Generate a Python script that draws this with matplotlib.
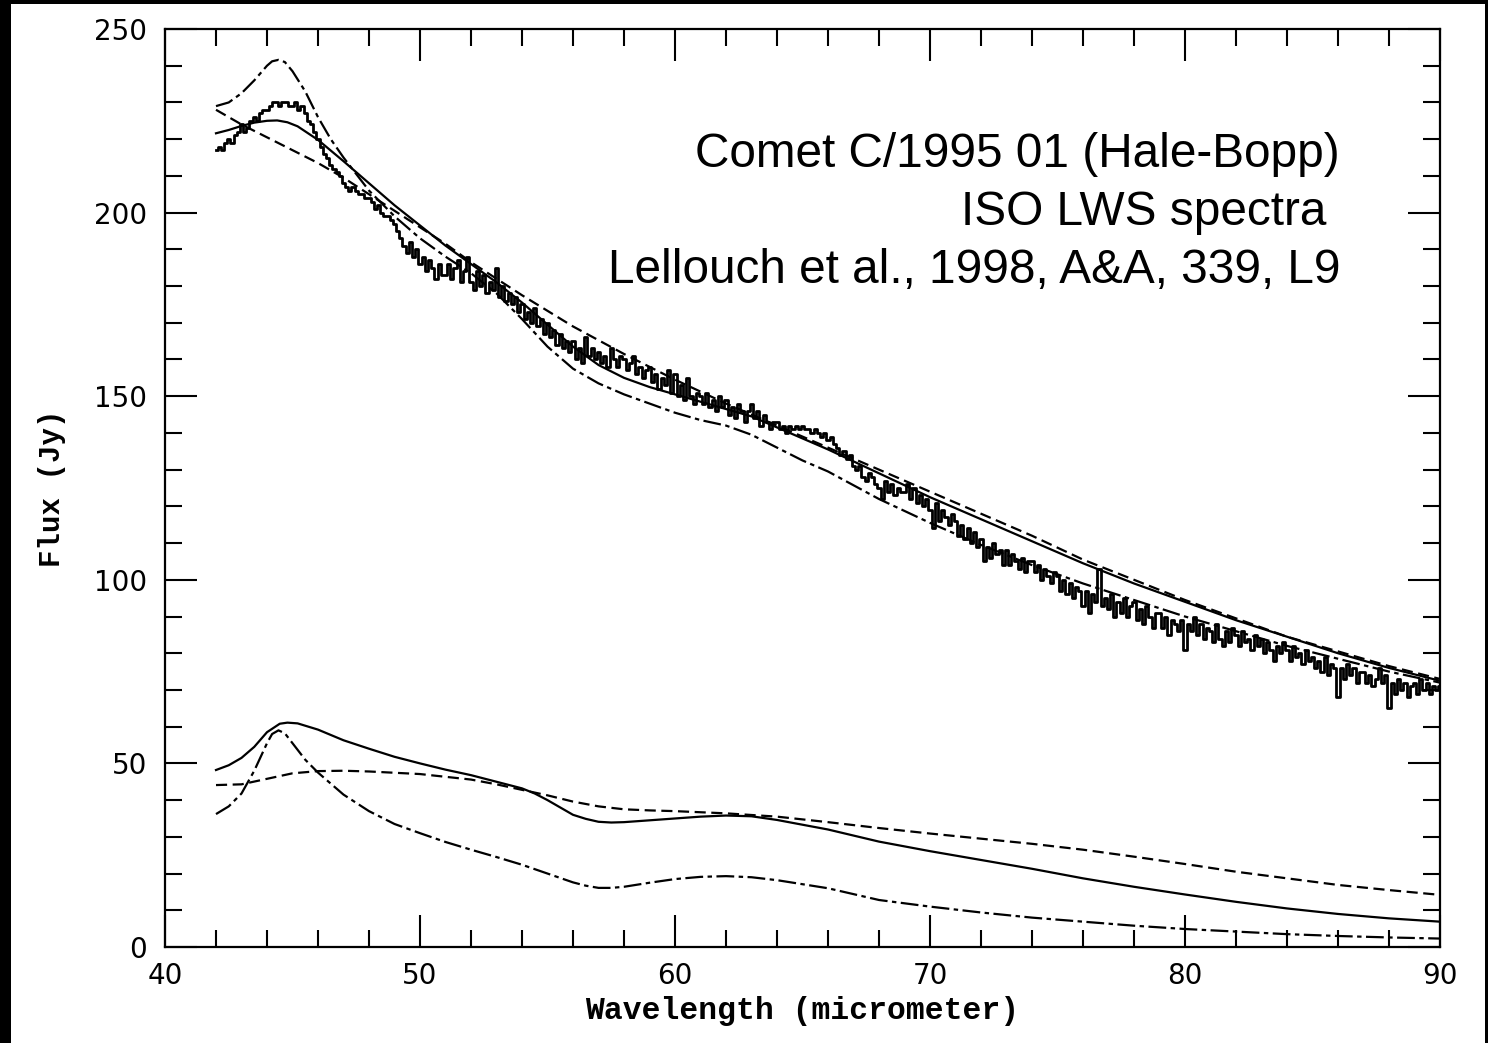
import numpy as np
import matplotlib
matplotlib.use("Agg")
import matplotlib.pyplot as plt
from matplotlib.patches import Rectangle
from matplotlib.ticker import MultipleLocator

# ---------------- data ----------------
# observed ISO LWS spectrum (histogram), 0.125 micron bins from 42 to 90
obs_start, obs_step = 42.0, 0.125
obs_flux = [
    217, 218, 217, 219, 220, 219, 221, 222,   # 42
    224, 222, 223, 225, 226, 225, 227, 228,   # 43
    228, 229, 230, 230, 229, 230, 230, 229,   # 44
    229, 230, 228, 229, 227, 225, 224, 222,   # 45
    220, 218, 216, 215, 213, 212, 211, 210,   # 46
    208, 207, 206, 207, 206, 205, 205, 204,   # 47
    204, 203, 201, 202, 200, 199, 199, 198,   # 48
    197, 195, 193, 191, 189, 192, 188, 190,   # 49
    186, 188, 184, 187, 185, 182, 186, 183,   # 50
    183, 186, 182, 185, 187, 181, 184, 188,   # 51
    181, 179, 184, 180, 183, 178, 181, 179,   # 52
    185, 177, 180, 176, 178, 175, 177, 173,   # 53
    175, 171, 173, 170, 174, 169, 171, 167,   # 54
    170, 166, 168, 164, 167, 163, 165, 162,   # 55
    165, 160, 163, 159, 166, 161, 163, 160,   # 56
    162, 159, 161, 158, 163, 160, 158, 161,   # 57
    160, 157, 159, 161, 156, 158, 155, 157,   # 58
    158, 154, 156, 152, 155, 153, 157, 151,   # 59
    156, 150, 153, 149, 155, 150, 148, 151,   # 60
    150, 148, 151, 147, 149, 146, 150, 147,   # 61
    149, 145, 147, 144, 148, 146, 143, 146,   # 62
    148, 144, 146, 142, 145, 143, 141, 143,   # 63
    143, 141, 142, 140, 142, 141, 142, 141,   # 64
    142, 141, 141, 140, 141, 140, 139, 140,   # 65
    138, 139, 137, 136, 134, 135, 133, 134,   # 66
    131, 130, 131, 128, 127, 129, 128, 126,   # 67
    125, 122, 127, 124, 126, 123, 125, 124,   # 68
    124, 126, 122, 125, 121, 123, 120, 122,   # 69
    119, 114, 121, 116, 119, 117, 115, 118,   # 70
    116, 112, 115, 111, 114, 110, 113, 109,   # 71
    111, 105, 109, 106, 110, 107, 108, 104,   # 72
    108, 104, 107, 105, 103, 106, 102, 105,   # 73
    105, 102, 104, 100, 103, 101, 99, 102,    # 74
    101, 97, 100, 96, 99, 95, 98, 97,         # 75
    93, 97, 91, 96, 94, 103, 93, 95,          # 76
    92, 96, 90, 94, 91, 95, 90, 93,           # 77
    94, 89, 92, 88, 93, 90, 87, 91,           # 78
    91, 87, 90, 85, 89, 88, 86, 89,           # 79
    81, 88, 86, 90, 85, 88, 84, 87,           # 80
    86, 83, 88, 84, 82, 86, 83, 87,           # 81
    85, 82, 86, 83, 84, 81, 85, 82,           # 82
    84, 80, 83, 81, 78, 82, 80, 83,           # 83
    81, 78, 82, 79, 80, 77, 81, 78,           # 84
    79, 76, 78, 75, 79, 74, 77, 76,           # 85
    68, 76, 73, 77, 74, 76, 72, 75,           # 86
    75, 72, 74, 71, 73, 76, 72, 74,           # 87
    65, 72, 69, 73, 70, 72, 68, 71,           # 88
    72, 69, 73, 70, 72, 69, 71, 70,           # 89
    71,
]

# upper models (total flux)
ut_x = [42, 42.5, 43, 43.5, 44, 44.2, 44.45, 44.7, 45, 45.5, 46, 46.5, 47, 48, 49, 50,
        51, 52, 53, 54, 55, 56, 57, 58, 59, 60, 61, 62, 63, 64, 65, 66, 68, 70, 72, 74,
        76, 78, 80, 82, 84, 86, 88, 90]
ut_y = [229, 230, 232.5, 236, 240, 241.2, 241.6, 241, 238.5, 233, 226, 220, 215, 206, 199, 193,
        188, 183.5, 178, 171, 163.5, 157.5, 153.5, 150.5, 148, 145.5, 143.5, 142, 139.5, 136,
        132.5, 129.5, 122, 115.5, 109.5, 104, 99, 94.5, 90, 86, 82, 78.5, 75, 72]

um_x = [42, 42.5, 43, 43.5, 44, 44.4, 44.8, 45.2, 46, 47, 48, 49, 50, 51, 52, 53, 54, 55,
        56, 57, 58, 59, 60, 61, 62, 63, 64, 65, 66, 68, 70, 72, 74, 76, 78, 80, 82, 84,
        86, 88, 90]
um_y = [221.6, 222.5, 223.6, 224.5, 225, 225.1, 224.6, 223.5, 219.8, 214, 208, 202, 196.5,
        191, 186, 181, 175.5, 169.5, 163.5, 158.5, 155, 152.5, 150.5, 148.5, 146.5, 144.5,
        141.5, 138.5, 135.5, 129, 122.5, 116.5, 110.5, 104.5, 99, 94, 89, 84.5, 80, 76, 72.5]

ud_x = [42, 43, 44, 45, 46, 47, 48, 49, 50, 51, 52, 54, 56, 58, 60, 62, 64, 66, 68, 70,
        72, 74, 76, 78, 80, 82, 84, 86, 88, 90]
ud_y = [228, 224, 220.5, 217, 213.5, 209.5, 205, 200.5, 196, 191.5, 186.5, 177.5, 169,
        161.5, 154.5, 148, 142, 136, 130, 124, 118, 112, 105.5, 100, 94.5, 89.5, 84.5,
        80.5, 76.5, 73]

# lower models (components)
ls_x = [42, 42.5, 43, 43.5, 44, 44.5, 44.8, 45.2, 46, 47, 48, 49, 50, 51, 52, 53, 54, 54.5,
        55, 55.5, 56, 56.5, 57, 57.5, 58, 59, 60, 61, 62, 63, 64, 66, 68, 70, 72, 74, 76,
        78, 80, 82, 84, 86, 88, 90]
ls_y = [48.2, 49.5, 51.5, 54.5, 58.5, 60.8, 61.1, 60.9, 59.2, 56.3, 54, 51.8, 50, 48.3, 46.8,
        45, 43.2, 41.8, 40, 38, 36, 34.9, 34.1, 33.9, 34, 34.5, 35, 35.5, 35.8, 35.6, 34.6,
        32, 28.7, 26.1, 23.7, 21.3, 18.7, 16.4, 14.3, 12.3, 10.5, 9.0, 7.8, 6.9]

ld_x = [42, 43, 44, 45, 46, 47, 48, 50, 52, 53, 54, 55, 56, 57, 58, 59, 60, 62, 64, 66, 68,
        70, 72, 74, 76, 78, 80, 82, 84, 86, 88, 90]
ld_y = [44.1, 44.3, 45.8, 47.3, 47.9, 48, 47.8, 47.1, 45.6, 44.3, 42.8, 41.3, 39.6, 38.3,
        37.5, 37.2, 37, 36.4, 35.5, 34, 32.4, 30.9, 29.5, 28.1, 26.5, 24.6, 22.6, 20.5, 18.7,
        16.9, 15.5, 14.2]

ll_x = [42, 42.5, 43, 43.5, 44, 44.2, 44.45, 44.7, 45, 45.5, 46, 46.5, 47, 48, 49, 50, 51,
        52, 53, 54, 55, 56, 56.5, 57, 57.5, 58, 59, 60, 61, 62, 63, 64, 65, 66, 68, 70, 72,
        74, 76, 78, 80, 82, 84, 86, 88, 90]
ll_y = [36.2, 38.3, 41.8, 48, 55.5, 58, 59, 58.2, 55.5, 51, 47.5, 44.5, 41.5, 37, 33.5, 31,
        28.6, 26.5, 24.5, 22.4, 20, 17.6, 16.7, 16.1, 16.1, 16.4, 17.5, 18.5, 19.1, 19.3, 19,
        18.2, 17.1, 16, 12.8, 11, 9.4, 8, 6.9, 5.8, 4.9, 4.2, 3.5, 3, 2.6, 2.3]

x_ticks = [40, 50, 60, 70, 80, 90]
y_ticks = [0, 50, 100, 150, 200, 250]
annot_lines = ["Comet C/1995 01 (Hale-Bopp)", "ISO LWS spectra ", "Lellouch et al., 1998, A&A, 339, L9"]

# ---------------- figure ----------------
W, H = 1488, 1043
fig = plt.figure(figsize=(W / 100, H / 100), dpi=100, facecolor="black")
fig.patches.append(Rectangle((11 / W, 0), (1485 - 11) / W, (H - 4) / H,
                             transform=fig.transFigure, facecolor="white",
                             edgecolor="none", zorder=-10))

L, R, T, B = 165, 1440, 29, 947
ax = fig.add_axes([L / W, (H - B) / H, (R - L) / W, (B - T) / H])
ax.set_facecolor("white")
ax.set_zorder(5)

obs_x = obs_start + obs_step * np.arange(len(obs_flux))
ax.step(obs_x, obs_flux, where="mid", color="black", lw=2.0, zorder=5)

lw = 1.6
ax.plot(ut_x, ut_y, color="black", lw=lw, ls=(0, (8, 2, 2, 2)))
ax.plot(um_x, um_y, color="black", lw=lw, ls="-")
ax.plot(ud_x, ud_y, color="black", lw=lw, ls=(0, (5, 2.5)))
ax.plot(ls_x, ls_y, color="black", lw=lw, ls="-")
ax.plot(ld_x, ld_y, color="black", lw=lw, ls=(0, (5, 2.5)))
ax.plot(ll_x, ll_y, color="black", lw=lw, ls=(0, (8, 2, 2, 2)))

ax.set_xlim(40, 90)
ax.set_ylim(0, 250)
ax.set_xticks(x_ticks)
ax.set_yticks(y_ticks)
ax.xaxis.set_minor_locator(MultipleLocator(2))
ax.yaxis.set_minor_locator(MultipleLocator(10))
ax.tick_params(which="both", direction="in", top=True, right=True, width=1.5, color="black")
ax.tick_params(which="major", length=23)
ax.tick_params(which="minor", length=12)
ax.tick_params(axis="x", which="major", pad=11, labelsize=20)
ax.tick_params(axis="y", which="major", pad=13, labelsize=20)
for s in ax.spines.values():
    s.set_linewidth(1.6)

lab_font = dict(family="Liberation Mono", weight="bold")
ax.set_xlabel("Wavelength (micrometer)", fontsize=22.6, labelpad=4, **lab_font)
ax.set_ylabel("Flux (Jy)", fontsize=21, labelpad=20, **lab_font)

baselines = [167, 225, 283]
for txt, yb in zip(annot_lines, baselines):
    ax.text(1340 / W, 1 - yb / H, txt, ha="right", va="baseline", transform=fig.transFigure,
            fontsize=34.4, family="Liberation Sans", color="black", zorder=10)

fig.savefig("out.png", dpi=100, facecolor=fig.get_facecolor())
